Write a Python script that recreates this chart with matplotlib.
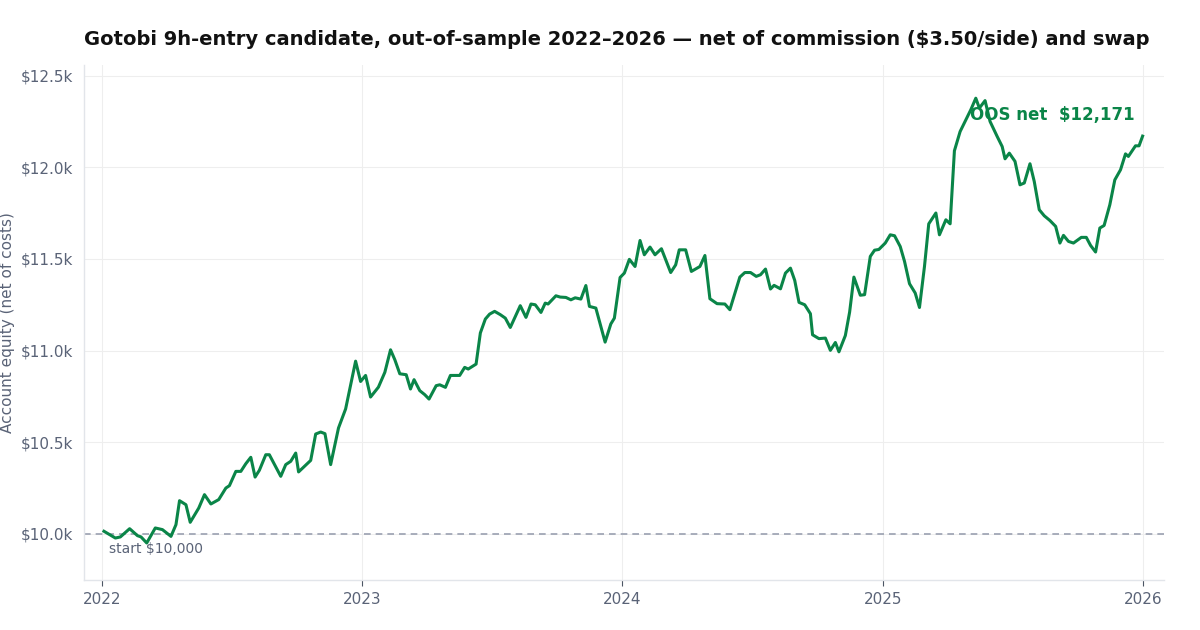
import matplotlib
matplotlib.use("Agg")
import matplotlib.pyplot as plt
import matplotlib.dates as mdates
from matplotlib.ticker import FuncFormatter
import pandas as pd

dates = [
    "2022-01-04", "2022-01-20", "2022-01-27", "2022-02-09", "2022-02-20", "2022-02-25",
    "2022-03-05", "2022-03-17", "2022-03-27", "2022-04-08", "2022-04-15", "2022-04-20",
    "2022-04-29", "2022-05-05", "2022-05-17", "2022-05-25", "2022-06-03", "2022-06-14",
    "2022-06-24", "2022-06-29", "2022-07-08", "2022-07-15", "2022-07-22", "2022-07-29",
    "2022-08-04", "2022-08-10", "2022-08-19", "2022-08-24", "2022-09-09", "2022-09-16",
    "2022-09-23", "2022-09-30", "2022-10-04", "2022-10-21", "2022-10-28", "2022-11-04",
    "2022-11-10", "2022-11-18", "2022-11-29", "2022-12-09", "2022-12-23", "2022-12-30",
    "2023-01-06", "2023-01-13", "2023-01-24", "2023-02-02", "2023-02-10", "2023-02-16",
    "2023-02-23", "2023-03-04", "2023-03-10", "2023-03-15", "2023-03-23", "2023-03-30",
    "2023-04-05", "2023-04-15", "2023-04-20", "2023-04-28", "2023-05-05", "2023-05-18",
    "2023-05-25", "2023-05-30", "2023-06-10", "2023-06-16", "2023-06-23", "2023-06-29",
    "2023-07-06", "2023-07-14", "2023-07-21", "2023-07-28", "2023-08-04", "2023-08-11",
    "2023-08-19", "2023-08-26", "2023-09-01", "2023-09-09", "2023-09-15", "2023-09-19",
    "2023-09-30", "2023-10-06", "2023-10-14", "2023-10-21", "2023-10-27", "2023-11-04",
    "2023-11-11", "2023-11-16", "2023-11-25", "2023-12-08", "2023-12-16", "2023-12-21",
    "2023-12-29",
    "2024-01-04", "2024-01-11", "2024-01-19", "2024-01-26", "2024-02-01", "2024-02-09",
    "2024-02-16", "2024-02-25", "2024-03-09", "2024-03-16", "2024-03-21", "2024-03-30",
    "2024-04-07", "2024-04-19", "2024-04-26", "2024-05-03", "2024-05-13", "2024-05-24",
    "2024-05-31", "2024-06-14", "2024-06-21", "2024-06-29", "2024-07-07", "2024-07-13",
    "2024-07-20", "2024-07-27", "2024-08-01", "2024-08-10", "2024-08-17", "2024-08-24",
    "2024-08-30", "2024-09-05", "2024-09-13", "2024-09-21", "2024-09-24", "2024-10-03",
    "2024-10-12", "2024-10-19", "2024-10-26", "2024-10-31", "2024-11-09", "2024-11-15",
    "2024-11-21", "2024-11-30", "2024-12-06", "2024-12-14", "2024-12-20", "2024-12-26",
    "2025-01-04", "2025-01-11", "2025-01-17", "2025-01-25", "2025-01-31", "2025-02-07",
    "2025-02-15", "2025-02-21", "2025-02-28", "2025-03-06", "2025-03-16", "2025-03-21",
    "2025-03-30", "2025-04-05", "2025-04-11", "2025-04-19", "2025-04-26", "2025-05-04",
    "2025-05-11", "2025-05-16", "2025-05-24", "2025-05-31", "2025-06-10", "2025-06-17",
    "2025-06-21", "2025-06-27", "2025-07-05", "2025-07-12", "2025-07-18", "2025-07-26",
    "2025-08-01", "2025-08-08", "2025-08-15", "2025-08-23", "2025-08-31", "2025-09-06",
    "2025-09-11", "2025-09-18", "2025-09-25", "2025-10-06", "2025-10-13", "2025-10-19",
    "2025-10-26", "2025-11-01", "2025-11-07", "2025-11-15", "2025-11-22", "2025-11-30",
    "2025-12-07", "2025-12-11", "2025-12-21", "2025-12-26", "2025-12-31",
]

equity = [
    10013, 9976, 9982, 10027, 9989, 9982,
    9949, 10031, 10022, 9985, 10049, 10180,
    10158, 10062, 10140, 10213, 10162, 10186,
    10249, 10262, 10340, 10340, 10382, 10417,
    10309, 10346, 10431, 10431, 10313, 10377,
    10395, 10440, 10337, 10400, 10544, 10555,
    10546, 10377, 10577, 10681, 10942, 10831,
    10864, 10746, 10800, 10881, 11004, 10950,
    10873, 10868, 10790, 10841, 10781, 10759,
    10735, 10808, 10813, 10799, 10864, 10864,
    10908, 10899, 10926, 11096, 11172, 11199,
    11214, 11196, 11177, 11126, 11186, 11245,
    11181, 11254, 11250, 11208, 11259, 11254,
    11299, 11292, 11290, 11277, 11288, 11281,
    11355, 11241, 11232, 11046, 11145, 11177,
    11399,
    11423, 11498, 11459, 11601, 11523, 11565,
    11523, 11556, 11426, 11468, 11550, 11550,
    11432, 11459, 11519, 11283, 11256, 11254,
    11223, 11401, 11426, 11426, 11405, 11414,
    11445, 11336, 11356, 11337, 11423, 11450,
    11383, 11263, 11250, 11201, 11086, 11065,
    11068, 11001, 11044, 10993, 11082, 11210,
    11401, 11302, 11305, 11514, 11548, 11552,
    11587, 11632, 11627, 11568, 11487, 11365,
    11314, 11235, 11459, 11692, 11751, 11632,
    11714, 11692, 12091, 12196, 12251, 12315,
    12378, 12324, 12365, 12251, 12169, 12114,
    12047, 12078, 12033, 11905, 11915, 12020,
    11923, 11769, 11736, 11710, 11678, 11587,
    11629, 11596, 11587, 11618, 11618, 11574,
    11538, 11669, 11683, 11796, 11932, 11987,
    12074, 12060, 12118, 12118, 12171,
]

start_equity = 10000
final_equity = 12171
title = "Gotobi 9h-entry candidate, out-of-sample 2022\u20132026 \u2014 net of commission ($3.50/side) and swap"
ylabel = "Account equity (net of costs)"
year_ticks = ["2022-01-01", "2023-01-01", "2024-01-01", "2025-01-01", "2026-01-01"]
year_labels = ["2022", "2023", "2024", "2025", "2026"]
y_ticks = [10000, 10500, 11000, 11500, 12000, 12500]

x = pd.to_datetime(dates)

fig = plt.figure(figsize=(12, 6.3), dpi=100)
ax = fig.add_axes([0.07, 0.08, 0.9, 0.817])

green = "#0a8548"
grid_c = "#eeeeee"
tick_c = "#5a6377"

ax.plot(x, equity, color=green, lw=2.2, zorder=3)
ax.axhline(start_equity, color="#9aa0b0", lw=1.2, ls=(0, (4, 3)), zorder=2)
ax.text(pd.Timestamp("2022-01-11"), start_equity - 45, "start $10,000",
        color=tick_c, fontsize=10, va="top", ha="left")
ax.text(0.973, 0.903, f"OOS net  ${final_equity:,}", transform=ax.transAxes,
        color=green, fontsize=12, fontweight="bold", ha="right", va="center", zorder=4)

ax.set_xlim(pd.Timestamp("2021-12-07"), pd.Timestamp("2026-01-30"))
ax.set_ylim(9749, 12560)
ax.set_xticks(pd.to_datetime(year_ticks))
ax.set_xticklabels(year_labels)
ax.set_yticks(y_ticks)
ax.yaxis.set_major_formatter(FuncFormatter(lambda v, p: f"${v/1000:.1f}k"))

ax.grid(True, color=grid_c, lw=0.8)
ax.set_axisbelow(True)
for s in ["top", "right"]:
    ax.spines[s].set_visible(False)
for s in ["left", "bottom"]:
    ax.spines[s].set_color("#e2e5ea")
    ax.spines[s].set_linewidth(1.0)

ax.tick_params(axis="y", length=0, labelsize=11, labelcolor=tick_c, pad=8)
ax.tick_params(axis="x", length=4, color="#4b5563", labelsize=11, labelcolor=tick_c, pad=5)
ax.set_ylabel(ylabel, fontsize=11, color=tick_c, labelpad=4)
ax.set_title(title, fontsize=14, fontweight="bold", color="#111111", pad=14, loc="left")

fig.savefig("out.png", dpi=100)
